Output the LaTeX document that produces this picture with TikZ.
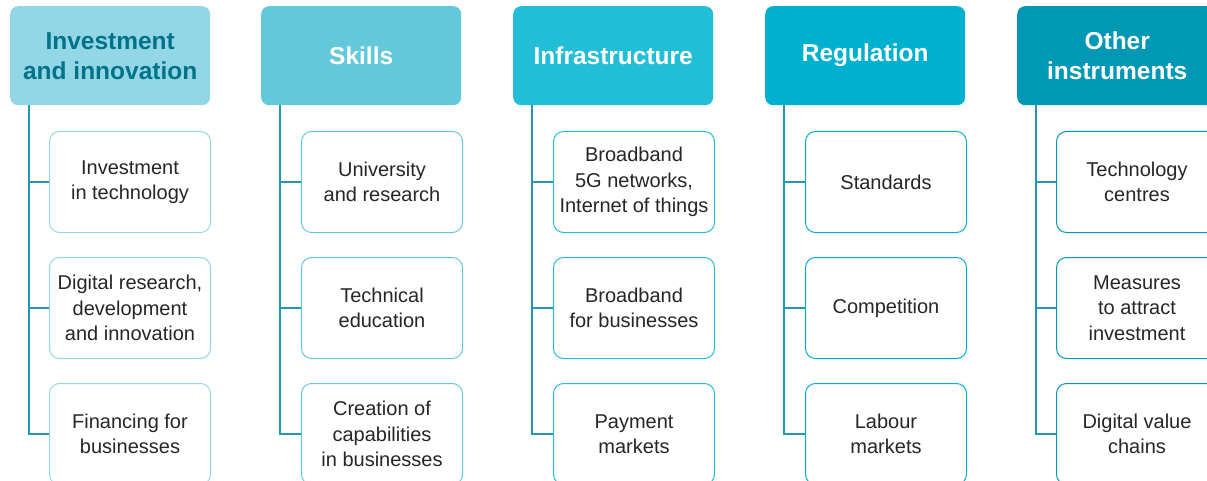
\documentclass[tikz,border=0pt]{standalone}
\usepackage{fontspec}
\setmainfont{Liberation Sans}
\definecolor{hA}{HTML}{93D6E5}
\definecolor{hB}{HTML}{63C9DA}
\definecolor{hC}{HTML}{22BDD6}
\definecolor{hD}{HTML}{00B0CF}
\definecolor{hE}{HTML}{0098B4}
\definecolor{hAtext}{HTML}{00738A}
\definecolor{conncol}{HTML}{2396B2}
\definecolor{childtext}{HTML}{262626}
\tikzset{
  headbox/.style={anchor=north west, rounded corners=8pt, minimum width=200pt, minimum height=99pt,
    inner sep=2pt, align=center, text=white, font=\fontsize{24.5}{30}\selectfont\bfseries},
  childbox/.style={anchor=north west, rounded corners=10pt, draw, line width=1pt, fill=white,
    minimum width=161pt, minimum height=101pt, inner sep=1pt, align=center, text=childtext,
    font=\fontsize{20}{25.5}\selectfont},
  conn/.style={draw=conncol, line width=1.4pt}
}
\begin{document}
\begin{tikzpicture}[x=1pt,y=-1pt]
\useasboundingbox (0,0) rectangle (1207,481);
\clip (0,0) rectangle (1207,481);
% column 1
\node[headbox, fill=hA, text=hAtext] (h1) at (10,6) {Investment\\and innovation};
\node[childbox, draw=hA] (c11) at (49,131) {Investment\\in technology};
\node[childbox, draw=hA] (c12) at (49,257) {Digital research,\\development\\and innovation};
\node[childbox, draw=hA] (c13) at (49,383) {Financing for\\businesses};
% column 2
\node[headbox, fill=hB] (h2) at (261,6) {Skills};
\node[childbox, draw=hB] (c21) at (301,131) {University\\and research};
\node[childbox, draw=hB] (c22) at (301,257) {Technical\\education};
\node[childbox, draw=hB] (c23) at (301,383) {Creation of\\capabilities\\in businesses};
% column 3
\node[headbox, fill=hC] (h3) at (513,6) {Infrastructure};
\node[childbox, draw=hC] (c31) at (553,131) {Broadband\\5G networks,\\Internet of things};
\node[childbox, draw=hC] (c32) at (553,257) {Broadband\\for businesses};
\node[childbox, draw=hC] (c33) at (553,383) {Payment\\markets};
% column 4
\node[headbox, fill=hD] (h4) at (765,6) {Regulation};
\node[childbox, draw=hD] (c41) at (805,131) {Standards};
\node[childbox, draw=hD] (c42) at (805,257) {Competition};
\node[childbox, draw=hD] (c43) at (805,383) {Labour\\markets};
% column 5
\node[headbox, fill=hE] (h5) at (1017,6) {Other\\instruments};
\node[childbox, draw=hE] (c51) at (1056,131) {Technology\\centres};
\node[childbox, draw=hE] (c52) at (1056,257) {Measures\\to attract\\investment};
\node[childbox, draw=hE] (c53) at (1056,383) {Digital value\\chains};
% connectors
\foreach \i in {1,...,5}{
  \coordinate (t\i) at ([xshift=19pt]h\i.south west);
  \draw[conn] (t\i) |- (c\i3.west);
  \draw[conn] (t\i |- c\i1.west) -- (c\i1.west);
  \draw[conn] (t\i |- c\i2.west) -- (c\i2.west);
}
\end{tikzpicture}
\end{document}
